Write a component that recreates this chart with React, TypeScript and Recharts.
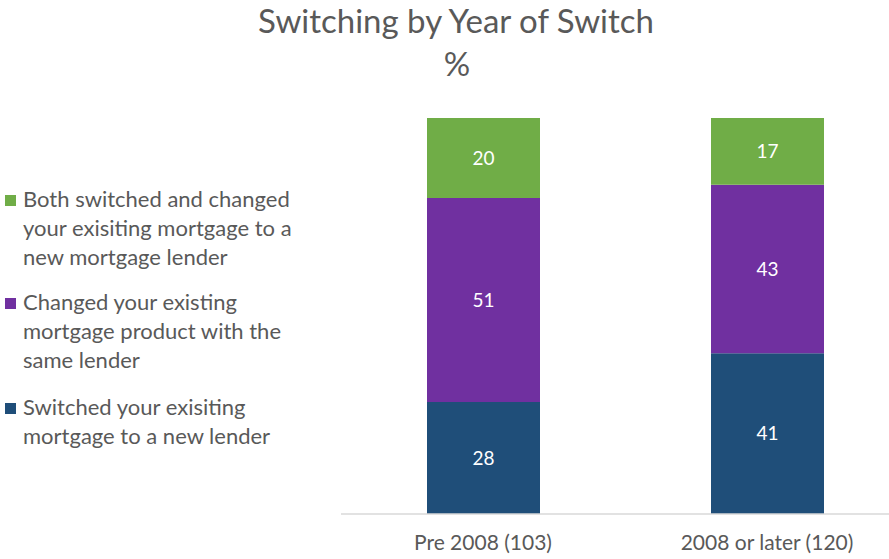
import React from 'react';
import { BarChart, Bar, XAxis, YAxis, LabelList } from 'recharts';

const categories = ['Pre 2008 (103)', '2008 or later (120)'];
const switchedLender = [28, 41];
const changedProduct = [51, 43];
const bothSwitched = [20, 17];

const titleLines = ['Switching by Year of Switch', '%'];

const seriesInfo = [
  { key: 'both', color: '#70AD47', lines: ['Both switched and changed', 'your exisiting mortgage to a', 'new mortgage lender'] },
  { key: 'changed', color: '#7030A0', lines: ['Changed your existing', 'mortgage product with the', 'same lender'] },
  { key: 'switched', color: '#1F4E79', lines: ['Switched your exisiting', 'mortgage to a new lender'] },
];

const data = categories.map((name, i) => ({
  name,
  switched: switchedLender[i],
  changed: changedProduct[i],
  both: bothSwitched[i],
}));

const FONT = 'Lato, "Open Sans", sans-serif';
const GRAY = '#595959';

export default function App() {
  const legendStarts = [207, 310, 415];
  return (
    <div style={{ position: 'absolute', left: 0, top: 0, width: 889, height: 559, overflow: 'hidden', background: '#fff' }}>
      <div style={{ position: 'absolute', left: 0, top: 0 }}>
        <BarChart
          width={920}
          height={559}
          data={data}
          stackOffset="expand"
          margin={{ top: 118, right: 11, left: 341, bottom: 0 }}
        >
          <XAxis
            dataKey="name"
            height={45}
            tickLine={false}
            axisLine={{ stroke: '#D9D9D9', strokeWidth: 1.5 }}
            tick={{ fill: GRAY, fontSize: 21, fontFamily: FONT }}
            tickMargin={15}
            interval={0}
          />
          <YAxis hide domain={[0, 1]} />
          <Bar dataKey="switched" stackId="a" fill="#1F4E79" barSize={113} isAnimationActive={false}>
            <LabelList dataKey="switched" position="center" fill="#FFFFFF" fontSize={19} fontFamily={FONT} />
          </Bar>
          <Bar dataKey="changed" stackId="a" fill="#7030A0" barSize={113} isAnimationActive={false}>
            <LabelList dataKey="changed" position="center" fill="#FFFFFF" fontSize={19} fontFamily={FONT} />
          </Bar>
          <Bar dataKey="both" stackId="a" fill="#70AD47" barSize={113} isAnimationActive={false}>
            <LabelList dataKey="both" position="center" fill="#FFFFFF" fontSize={19} fontFamily={FONT} />
          </Bar>
        </BarChart>
      </div>
      <svg width={889} height={559} style={{ position: 'absolute', left: 0, top: 0, pointerEvents: 'none' }}>
        <text x={456} y={33} textAnchor="middle" fill={GRAY} fontSize={33} fontFamily={FONT}>{titleLines[0]}</text>
        <text x={457} y={76} textAnchor="middle" fill={GRAY} fontSize={33} fontFamily={FONT}>{titleLines[1]}</text>
        {seriesInfo.map((s, i) => (
          <g key={s.key}>
            <rect x={5} y={legendStarts[i] - 12} width={11} height={11} fill={s.color} />
            {s.lines.map((ln, j) => (
              <text key={j} x={23} y={legendStarts[i] + j * 29} fill={GRAY} fontSize={22} fontFamily={FONT}>{ln}</text>
            ))}
          </g>
        ))}
      </svg>
    </div>
  );
}
